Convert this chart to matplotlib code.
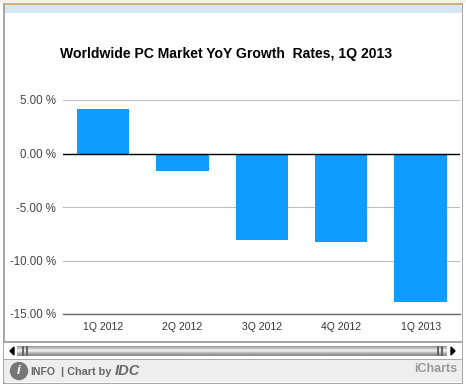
import matplotlib
matplotlib.use("Agg")
import numpy as np
import matplotlib.pyplot as plt
from matplotlib.patches import Rectangle, Circle, Polygon

W, H = 466, 388

quarters = ["1Q 2012", "2Q 2012", "3Q 2012", "4Q 2012", "1Q 2013"]
growth = [4.2, -1.6, -8.1, -8.3, -13.9]
ticks = [5, 0, -5, -10, -15]
tick_labels = ["5.00 %", "0.00 %", "-5.00 %", "-10.00 %", "-15.00 %"]

plt.rcParams["font.family"] = ["Liberation Sans", "DejaVu Sans"]

fig = plt.figure(figsize=(W / 100, H / 100), dpi=100, facecolor="white")

# page chrome drawn in pixel coords, y pointing down
bg = fig.add_axes([0, 0, 1, 1])
bg.set_xlim(0, W)
bg.set_ylim(H, 0)
bg.axis("off")


def box(x, y, w, h, color, **kw):
    bg.add_patch(Rectangle((x, y), w, h, facecolor=color, edgecolor="none", **kw))


box(0, 0, W, 3, "#f4f1e6")
box(4, 3, 458, 1.5, "#cdb27e")
box(4, 4.5, 458, 8.5, "#d8e6f2")
box(3, 3, 1.5, 380, "#a8a8a8")
box(461.5, 3, 1.5, 380, "#a8a8a8")
box(4, 341, 458, 1.5, "#a8a8a8")
box(4, 342.5, 458, 16, "#ffffff")
box(4, 358.5, 458, 1.5, "#a8a8a8")
box(4, 360, 458, 22, "#eeeeee")
box(3, 382.5, 460, 1.5, "#a8a8a8")

# scrollbar
bg.imshow(np.array([0.62, 0.72, 0.86, 0.93, 0.86, 0.72, 0.62, 0.55])[:, None],
          cmap="gray", vmin=0, vmax=1, aspect="auto",
          extent=(17, 447, 356, 346), zorder=2)
bg.set_xlim(0, W)
bg.set_ylim(H, 0)
for gx in (22, 26, 437, 441):
    box(gx, 346, 1.5, 10, "#666666", zorder=3)
bg.add_patch(Polygon([[14, 347], [14, 355], [10, 351]], color="black"))
bg.add_patch(Polygon([[451, 347], [451, 355], [455, 351]], color="black"))

# footer
bg.add_patch(Circle((19, 371), 8.5, color="#777777", zorder=3))
bg.text(19, 371.5, "i", color="white", fontsize=9.5, fontweight="bold", style="italic",
        ha="center", va="center", zorder=4)
bg.text(30, 372, "INFO", color="#666666", fontsize=7.5, fontweight="bold", va="center")
bg.text(61, 372, "| Chart by", color="#666666", fontsize=7.8, fontweight="bold", va="center")
bg.text(115, 371, "IDC", color="#666666", fontsize=10.5, fontweight="bold", style="italic",
        va="center")
bg.text(457, 368.5, "iCharts", color="#999999", fontsize=9, fontweight="bold",
        ha="right", va="center")

bg.text(226, 54, "Worldwide PC Market YoY Growth  Rates, 1Q 2013", color="black",
        fontsize=10.05, fontweight="bold", ha="center", va="center")

# plot area spans px 63-460 across and 100-314 down
ax = fig.add_axes([63 / W, 1 - 314 / H, 397 / W, 214 / H])
ax.patch.set_alpha(0)
x = np.arange(len(quarters))
ax.bar(x, growth, width=0.66, color="#0f9bff", zorder=2)
ax.set_xlim(-0.504, 4.496)
ax.set_ylim(-15, 5)
ax.set_yticks(ticks)
ax.set_yticklabels(tick_labels, fontsize=8.3, color="#444444")
ax.set_xticks(x)
ax.set_xticklabels(quarters, fontsize=7.5, color="#333333")
ax.tick_params(axis="both", length=0)
ax.tick_params(axis="y", pad=5)
ax.tick_params(axis="x", pad=6)
ax.grid(axis="y", color="#bdbdbd", linewidth=0.8, zorder=0)
ax.axhline(0, color="black", linewidth=1, zorder=3)
for side in ("top", "right", "left"):
    ax.spines[side].set_visible(False)
ax.spines["bottom"].set_color("#666666")
ax.spines["bottom"].set_linewidth(1)

fig.savefig("out.png", dpi=100)
